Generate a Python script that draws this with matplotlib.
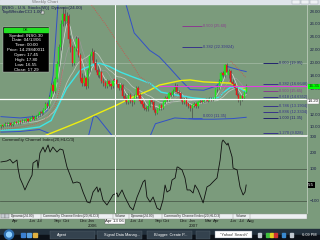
import numpy as np
import pandas as pd
import matplotlib
matplotlib.use("Agg")
import matplotlib.pyplot as plt
import matplotlib.transforms as mtransforms
from matplotlib.patches import Rectangle, Circle

plt.rcParams['font.family'] = ['Liberation Sans', 'DejaVu Sans']

# weekly candles, week 0 = 24 Feb 2005
opens = [10.1, 10.3, 10.2, 10.5, 10.4, 10.6, 10.3, 10.5, 10.8, 10.6,
         10.9, 10.7, 11.0, 10.9, 11.2, 11.0, 11.3, 11.6, 11.3, 11.7,
         11.9, 12.3, 12.1, 12.8, 13.5, 13.2, 14.6, 16.5, 15.6, 17.4,
         19.8, 22.4, 26.0, 27.6, 26.4, 27.2, 23.6, 22.4, 19.9, 22.3,
         23.6, 21.2, 17.6, 16.9, 17.6, 16.3, 18.8, 21.0, 21.6, 20.0,
         18.9, 18.1, 18.6, 17.2, 16.8, 16.4, 17.1, 16.6, 16.3, 17.45,
         17.3, 16.6, 16.0, 16.5, 14.8, 14.4, 13.9, 15.0, 14.0, 13.8,
         14.8, 16.0, 15.0, 14.0, 13.6, 13.0, 12.8, 13.3, 14.2, 13.8,
         12.6, 12.2, 12.8, 13.4, 13.0, 13.8, 14.5, 14.2, 15.2, 15.0,
         15.6, 16.3, 15.4, 15.2, 14.2, 13.8, 14.4, 13.6, 13.2, 12.9,
         13.4, 13.6, 13.2, 13.9, 14.1, 13.9, 14.2, 14.3, 14.1, 14.4,
         14.2, 14.5, 15.9, 16.0, 17.2, 18.3, 18.0, 19.6, 18.0, 18.7,
         17.0, 16.6, 16.0, 15.0, 14.2, 14.8, 14.5, 15.4]
closes = [10.3, 10.2, 10.5, 10.4, 10.6, 10.3, 10.5, 10.8, 10.6, 10.9,
          10.7, 11.0, 10.9, 11.2, 11.0, 11.3, 11.6, 11.3, 11.7, 11.9,
          12.3, 12.1, 12.8, 13.5, 13.2, 14.6, 16.5, 15.6, 17.4, 19.8,
          22.4, 26.0, 27.6, 26.4, 27.2, 23.6, 22.4, 19.9, 22.3, 23.6,
          21.2, 17.6, 16.9, 17.6, 16.3, 18.8, 21.0, 21.6, 20.0, 18.9,
          18.1, 18.6, 17.2, 16.8, 16.4, 17.1, 16.6, 16.3, 17.2, 17.29,
          16.6, 16.0, 16.5, 14.8, 14.4, 13.9, 15.0, 14.0, 13.8, 14.8,
          16.0, 15.0, 14.0, 13.6, 13.0, 12.8, 13.3, 14.2, 13.8, 12.6,
          12.2, 12.8, 13.4, 13.0, 13.8, 14.5, 14.2, 15.2, 15.0, 15.6,
          16.3, 15.4, 15.2, 14.2, 13.8, 14.4, 13.6, 13.2, 12.9, 13.4,
          13.6, 13.2, 13.9, 14.1, 13.9, 14.2, 14.3, 14.1, 14.4, 14.2,
          14.5, 15.9, 16.0, 17.2, 18.3, 18.0, 19.6, 18.6, 18.7, 17.0,
          16.6, 16.0, 15.0, 14.2, 14.8, 14.5, 15.4, 16.35]
highs = [10.5, 10.5, 10.7, 10.7, 10.8, 10.7, 10.7, 11.0, 10.9, 11.1,
         11.1, 11.2, 11.3, 11.4, 11.4, 11.5, 11.8, 11.7, 11.9, 12.2,
         12.5, 12.6, 13.0, 13.8, 13.9, 14.9, 16.9, 17.2, 17.8, 20.2,
         22.9, 26.6, 28.6, 28.3, 27.9, 27.5, 24.3, 22.8, 22.6, 24.1,
         23.9, 21.5, 18.3, 18.0, 17.9, 19.2, 21.5, 22.3, 22.0, 20.5,
         19.4, 19.0, 18.8, 17.6, 17.1, 17.4, 17.3, 16.9, 17.5, 17.80,
         17.4, 16.8, 16.8, 16.7, 15.2, 14.7, 15.3, 15.2, 14.4, 15.1,
         16.4, 16.3, 15.3, 14.3, 13.9, 13.3, 13.6, 14.5, 14.4, 14.0,
         12.9, 13.0, 13.6, 13.6, 14.0, 14.8, 14.8, 15.5, 15.5, 15.9,
         16.8, 16.6, 15.7, 15.4, 14.5, 14.6, 14.6, 13.9, 13.5, 13.6,
         13.9, 13.8, 14.1, 14.3, 14.3, 14.4, 14.5, 14.5, 14.6, 14.6,
         14.7, 16.1, 16.3, 17.5, 18.6, 18.7, 19.8, 19.95, 19.0, 18.9,
         17.4, 16.9, 16.2, 15.3, 15.0, 15.1, 15.6, 16.6]
lows = [9.9, 10.0, 10.1, 10.2, 10.2, 10.1, 10.2, 10.4, 10.4, 10.5,
        10.5, 10.6, 10.7, 10.8, 10.8, 10.9, 11.1, 11.1, 11.2, 11.5,
        11.7, 11.9, 12.0, 12.6, 12.9, 13.0, 14.4, 15.2, 15.3, 17.0,
        19.5, 22.0, 25.6, 25.8, 25.9, 23.0, 21.6, 19.5, 19.6, 21.8,
        20.8, 17.2, 16.4, 16.3, 15.9, 16.0, 18.5, 20.4, 19.6, 18.5,
        17.7, 17.6, 16.8, 16.4, 16.0, 16.1, 16.3, 15.9, 16.1, 16.55,
        16.2, 15.7, 15.7, 14.5, 14.0, 13.5, 13.6, 13.7, 13.3, 13.5,
        14.5, 14.7, 13.7, 13.2, 12.7, 12.4, 12.5, 13.1, 13.5, 12.3,
        11.9, 12.0, 12.6, 12.7, 12.8, 13.6, 13.9, 14.0, 14.7, 14.8,
        15.4, 15.2, 14.9, 14.0, 13.5, 13.6, 13.3, 12.9, 12.5, 11.35,
        13.1, 12.9, 13.0, 13.7, 13.7, 13.8, 14.0, 13.9, 14.0, 14.0,
        14.0, 14.3, 15.5, 15.8, 17.0, 17.7, 17.8, 18.3, 17.6, 16.8,
        16.3, 15.7, 14.8, 13.9, 13.4, 14.1, 14.3, 15.2]

# indicator lines (week, value)
cyan_wk = [0, 10, 20, 26, 30, 34, 41, 48, 51, 56, 62, 68, 77, 83, 90, 100, 107, 113, 115, 119, 124, 127]
cyan_val = [9.5, 9.6, 10.0, 11.0, 13.5, 16.0, 18.8, 19.7, 19.9, 19.4, 18.5, 17.8, 16.8, 15.4, 15.0, 14.5, 14.3, 14.6, 15.3, 16.2, 16.0, 15.4]
yellow_wk = [18, 24, 34, 43, 51, 60, 68, 77, 82, 93, 98, 105, 119, 124, 127]
yellow_val = [8.0, 8.8, 10.0, 11.1, 12.2, 13.4, 14.6, 15.7, 16.5, 17.2, 17.3, 17.0, 16.8, 16.0, 15.7]
upper_wk = [0, 10, 20, 24, 27, 30, 62, 64, 69, 77, 82, 87, 93, 98, 105, 112, 117, 124, 127]
upper_val = [11.6, 11.4, 11.7, 12.6, 18.0, 31.0, 31.0, 29.8, 24.6, 21.9, 20.9, 19.3, 17.3, 15.8, 15.7, 16.4, 19.4, 18.8, 18.6]
lower_wk = [0, 10, 20, 25, 28, 44, 48, 50, 54, 58, 75, 80, 90, 100, 110, 120, 127]
lower_val = [9.2, 9.3, 9.6, 9.0, 6.0, 7.0, 11.8, 11.5, 10.0, 8.5, 7.0, 10.5, 11.4, 11.2, 11.2, 11.3, 11.5]
sar_wk = [0, 6, 12, 18, 22, 25, 28, 30, 32, np.nan, 45, 55, 62, 68, 72, 78, np.nan,
          113, 115, 117, np.nan, 119, 122, 125, 127]
sar_val = [9.6, 9.8, 10.1, 10.5, 11.0, 11.8, 13.2, 15.5, 19.0, np.nan, 29.7, 25.6, 22.3, 19.7, 17.8, 16.5, np.nan,
           14.6, 15.4, 16.5, np.nan, 20.2, 19.3, 18.3, 17.6]

fib_r_level = [19.95, 16.6648, 15.65, 14.6352, 13.1904, 12.3304, 11.35, 9.028]
fib_r_text = ['0.000 (19.95)', '0.382 (16.6648)', '0.500 (15.65)', '0.618 (14.6352)',
              '0.786 (13.1904)', '0.886 (12.3304)', '1.000 (11.35)', '1.270 (9.028)']
fib_u_level = [25.60, 22.39924]
fib_u_text = ['0.500 (25.60)', '0.382 (22.39924)']

cci_wk = [0, 3.1, 4.7, 6.2, 8.3, 8.8, 9.8, 11.4, 12.4, 14.0, 16.1, 16.6, 18.7, 19.2, 20.2, 21.8,
          22.8, 24.4, 25.4, 26.9, 29.0, 30.6, 32.1, 34.2, 35.8, 37.3, 39.4, 40.9, 42.5, 44.6,
          46.1, 47.7, 49.7, 50.3, 51.3, 52.8, 54.9, 56.5, 58.0, 60.1, 60.6, 62.7, 64.2, 66.8,
          68.4, 70.5, 72.0, 73.6, 74.6, 75.6, 77.2, 78.8, 80.8, 82.4, 83.9, 85.0, 86.0, 87.6,
          88.6, 90.2, 91.2, 91.7, 93.8, 95.3, 96.4, 97.9, 99.5, 100.5, 102.1, 104.7, 106.7,
          108.3, 109.8, 111.9, 113.5, 114.5, 115.0, 117.1, 117.6, 119.7, 120.2, 122.3, 123.8,
          125.4, 126.4, 127.0]
cci_val = [144, 150, 160, 137, 156, 106, 44, 0, -31, 12, 62, 137, 156, 106, 200, 237,
           206, 250, 206, 237, 206, 225, 219, 112, 62, 12, 19, 12, -44, -106,
           -112, -44, -12, -44, -19, -94, -125, -94, -62, -50, -75, -31, -75, -137,
           -156, -75, -31, 19, 31, -75, -106, -75, -144, -156, -94, 0, -44, -31,
           31, 44, 112, 112, 94, 44, -31, -31, -50, 0, -31, -112, -12,
           0, 19, 44, 156, 269, 281, 250, 262, 175, 106, 94, -12,
           -62, -44, 0]

# Mar/Apr 2006 sit under the cursor date box, so they are not listed
month_dates = ['2005-04-01', '2005-06-01', '2005-07-01', '2005-09-01', '2005-10-01', '2005-12-01',
               '2006-01-01', '2006-06-01', '2006-07-01', '2006-09-01',
               '2006-10-01', '2006-12-01', '2007-01-01', '2007-03-01', '2007-04-01', '2007-06-01',
               '2007-07-01', '2007-08-01']
month_labels = ['Apr', 'Jun', 'Jul', 'Sep', 'Oct', 'Dec', 'Jan', 'Jun', 'Jul', 'Sep',
                'Oct', 'Dec', 'Jan', 'Mar', 'Apr', 'Jun', 'Jul', 'Aug']
start = pd.Timestamp('2005-02-24')
# 14.00 is hidden behind the cursor price box
price_ticks = [10, 12, 16, 18, 20, 22, 24, 26, 28]

GREEN = '#7b9b7c'
FS = 3.2

o = np.array(opens); c = np.array(closes); h = np.array(highs); l = np.array(lows)
wk = np.arange(len(c))
cs = pd.Series(c)
ma_fast = cs.rolling(5, min_periods=1).mean()
ma_mid = cs.rolling(10, min_periods=1).mean()
ma_slow = cs.rolling(20, min_periods=1).mean()

fig = plt.figure(figsize=(3.2, 2.4), dpi=100, facecolor=GREEN)

# ---- price panel
ax = fig.add_axes([0, 105 / 240, 307 / 320, 131 / 240])
ax.set_facecolor(GREEN)
ax.set_xlim(-0.5, 158.5)
ax.set_ylim(8.75, 29.09)

ax.axhline(19.95, color='#a6bca6', lw=0.5, zorder=1)
ax.plot(upper_wk, upper_val, color='#3250c8', lw=0.7, zorder=2)
ax.plot(lower_wk, lower_val, color='#3250c8', lw=0.7, zorder=2)
ax.plot(wk, ma_slow, color='#b8c4b8', lw=0.6, zorder=2)
ax.plot(wk, ma_mid, color='#9a9a9a', lw=0.5, zorder=2)
ax.plot(wk, ma_fast, color='#d8d8d8', lw=0.5, zorder=2)
ax.plot(yellow_wk, yellow_val, color='#eeee10', lw=1.0, zorder=2)
ax.plot(cyan_wk, cyan_val, color='#3ee6e6', lw=1.0, zorder=2)
ax.plot(sar_wk, sar_val, color='#d84848', lw=0.6, ls=(0, (1, 1.5)), zorder=2)

up = c >= o
ax.vlines(wk, l, h, color='#3c3c3c', lw=0.4, zorder=3)
ax.bar(wk[up], (c - o)[up], bottom=o[up], width=0.62, color='#1ee61e',
       edgecolor='#1ee61e', lw=0.3, zorder=4)
ax.bar(wk[~up], (o - c)[~up], bottom=c[~up], width=0.62, color='#e81c1c',
       edgecolor='#e81c1c', lw=0.3, zorder=4)

# fibonacci levels
fib_cols = ['#22226e', '#38348a', '#8a3c8e', '#38348a', '#38348a', '#38348a', '#22226e', '#38348a']
ax.hlines(fib_r_level, 135.7, 143.5, colors=fib_cols, lw=0.7, zorder=5)
for lev, txt, col in zip(fib_r_level, fib_r_text, fib_cols):
    ax.text(144, lev, txt, fontsize=2.9, color=col, va='center', ha='left', zorder=6)
ax.hlines(fib_u_level, 93.8, 104, colors=['#8a3c8e', '#38348a'], lw=0.7, zorder=5)
for lev, txt, col in zip(fib_u_level, fib_u_text, ['#8a3c8e', '#38348a']):
    ax.text(104.5, lev, txt, fontsize=2.9, color=col, va='center', ha='left', zorder=6)
ax.hlines(11.35, 97, 104, color='#3250c8', lw=0.6, zorder=5)
ax.text(104.5, 11.35, '0.000 (11.35)', fontsize=2.9, color='#38348a', va='bottom', ha='left', zorder=6)

ax.hlines(closes[-1], 82, 158.5, color='#e040e0', lw=0.8, zorder=5)
ax.axhline(14.2984, color='white', lw=0.9, zorder=5)
ax.axvline(59, color='white', lw=0.7, zorder=5)

ax.yaxis.tick_right()
ax.set_yticks(price_ticks)
ax.set_yticklabels([f'{v:.2f}' for v in price_ticks])
ax.tick_params(axis='y', length=0, pad=1.8, labelsize=FS, labelcolor='#1c2048')
ax.set_xticks([])
for s in ['top', 'left', 'bottom']:
    ax.spines[s].set_visible(False)
ax.spines['right'].set_color('#c8d4c8')
ax.spines['right'].set_linewidth(0.5)
bt = mtransforms.blended_transform_factory(ax.transAxes, ax.transData)
ax.text(1.004, closes[-1], f'{closes[-1]:.2f}', transform=bt, fontsize=FS, va='center', ha='left',
        color='#103010', bbox=dict(facecolor='#00ff00', edgecolor='none', pad=0.4), clip_on=False, zorder=7)
ax.text(1.003, 14.2984, '14.20', transform=bt, fontsize=FS, va='top', ha='left',
        color='#202020', bbox=dict(facecolor='white', edgecolor='#808080', lw=0.3, pad=0.4),
        clip_on=False, zorder=7)

# ---- CCI panel
cx = fig.add_axes([0, 27 / 240, 307 / 320, 76 / 240])
cx.set_facecolor(GREEN)
cx.set_xlim(-0.5, 158.5)
cx.set_ylim(-175, 300)
cx.axhline(100, color='#4c5c4c', lw=0.6)
cx.axhline(-100, color='#4c5c4c', lw=0.6)
cx.plot(cci_wk, cci_val, color='#101010', lw=0.6)
cx.axvline(59, color='white', lw=0.7)
cx.yaxis.tick_right()
cx.set_yticks([300, 200, 100, -100])
cx.tick_params(axis='y', length=0, pad=1.8, labelsize=FS, labelcolor='#1c2048')
cx.set_xticks([])
for s in ['top', 'left', 'bottom']:
    cx.spines[s].set_visible(False)
cx.spines['right'].set_color('#c8d4c8')
cx.spines['right'].set_linewidth(0.5)
cx.text(0.005, 0.985, 'Commodity Channel Index(20,HLC/3)', transform=cx.transAxes, fontsize=FS,
        va='top', ha='left', color='#1a1a1a')
bt2 = mtransforms.blended_transform_factory(cx.transAxes, cx.transData)
cx.text(1.004, cci_val[-1], '5.5', transform=bt2, fontsize=FS, va='center', ha='left', color='white',
        bbox=dict(facecolor='black', edgecolor='none', pad=0.4), clip_on=False)

# month labels under the tab strip
xt = cx.get_xaxis_transform()
for d, lab in zip(month_dates, month_labels):
    w = (pd.Timestamp(d) - start).days / 7
    cx.text(w + 0.6, -0.105, lab, transform=xt, fontsize=FS, ha='left', va='center',
            color='#1a1a1a', clip_on=False)
    if lab == 'Jan':
        cx.text(w + 0.6, -0.175, d[:4], transform=xt, fontsize=FS, ha='left', va='center',
                color='#1a1a1a', clip_on=False)
cx.text(59, -0.105, 'Apr 13 06', transform=xt, fontsize=FS, ha='center', va='center', color='#1a1a1a',
        bbox=dict(facecolor='white', edgecolor='#606060', lw=0.3, pad=0.5), clip_on=False, zorder=8)

# ---- window chrome (pixel coordinates)
ov = fig.add_axes([0, 0, 1, 1], zorder=5)
ov.set_xlim(0, 320)
ov.set_ylim(240, 0)
ov.axis('off')
ov.patch.set_alpha(0)

ov.add_patch(Rectangle((0, 0), 320, 4, color='#dfe4ea'))
ov.text(32, 2.3, 'Weekly Chart', fontsize=FS, color='#7a7a7a', va='center', ha='left')
for bx in [292, 301, 310]:
    ov.add_patch(Rectangle((bx, 0), 8, 3.5, facecolor='#eef1f4', edgecolor='#9aa4b0', lw=0.3))
ov.plot([0, 307], [136, 136], color='white', lw=1.1)

ov.text(2, 7.5, '[INSG - U.S. Stocks(W)]  Dynamic(24.00)', fontsize=FS, color='#1a1a50', va='center')
ov.text(2, 12.5, 'TopWhistlerCCI 1.00', fontsize=FS, color='#1a1a50', va='center')
ov.add_patch(Rectangle((40.5, 10.8), 3.5, 3.4, facecolor='#d8dcd8', edgecolor='#404040', lw=0.3))

# data window
ov.add_patch(Rectangle((3, 27), 46, 45, facecolor='black', edgecolor='#c0c0c0', lw=0.3))
ov.add_patch(Rectangle((4, 27.8), 44, 4.4, color='#22e022'))
ov.text(26, 30.1, 'OK', fontsize=2.8, color='#102010', ha='center', va='center')
info = ['Symbol: INSG.30', 'Date: 04/13/06', 'Time: 00:00', 'Price: 14.29840011',
        'Open: 17.45', 'High: 17.80', 'Low: 16.55', 'Close: 17.29']
for i, t in enumerate(info):
    ov.text(26, 35.5 + i * 4.9, t, fontsize=FS, color='white', ha='center', va='center')

# tab strip
ov.add_patch(Rectangle((0, 213.5), 307, 5.5, facecolor='#edf0f2', edgecolor='#8f968f', lw=0.3))
for bx in [0.5, 5]:
    ov.add_patch(Rectangle((bx, 214.2), 4, 4.2, facecolor='#c9ced4', edgecolor='#707070', lw=0.3))
tabs = ['Dynamic(24.00)', 'Commodity Channel Index(20,HLC/3)', 'Volume',
        'Dynamic(24.00)', 'Commodity Channel Index(20,HLC/3)', 'Volume']
tx = 10.5
for t in tabs:
    ov.text(tx, 216.3, t, fontsize=2.4, color='#2a2a2a', va='center', ha='left')
    tx += len(t) * 2.05 + 4
    ov.plot([tx - 2, tx - 2], [213.8, 218.8], color='#8a8a8a', lw=0.3)

# taskbar
ov.add_patch(Rectangle((0, 229), 320, 5.5, color='#22303c'))
ov.add_patch(Rectangle((0, 234.5), 320, 5.5, color='#0c1118'))
ov.add_patch(Circle((9, 234.6), 4.6, color='#2f6fb0'))
ov.add_patch(Circle((9, 234.6), 2.4, color='#8fd0ff'))
for qx, qc in zip([21, 27, 33], ['#3b7fd0', '#5aa0e0', '#e0b040']):
    ov.add_patch(Rectangle((qx, 232.5), 4, 4, color=qc))
buttons = [(50, 'Agent'), (97, 'Signal Data Manag...'), (147, 'Blogger: Create P...')]
for bx, t in buttons:
    ov.add_patch(Rectangle((bx, 230.5), 45, 8, facecolor='#34424e', edgecolor='#56646e', lw=0.3))
    ov.text(bx + 7, 234.6, t, fontsize=2.8, color='white', va='center', ha='left')
ov.add_patch(Rectangle((196, 230.5), 14, 8, facecolor='#34424e', edgecolor='#56646e', lw=0.3))
ov.add_patch(Rectangle((215, 231), 37, 7, facecolor='white', edgecolor='#7a8a9a', lw=0.3))
ov.text(233.5, 234.6, '"Yahoo! Search"', fontsize=2.8, color='#303030', va='center', ha='center')
for qx, qc in zip([258, 266, 270, 274, 282, 290], ['#c0c8d0', '#40c040', '#e0d020', '#d03030',
                                                  '#3a8ad0', '#c0c8d0']):
    ov.add_patch(Rectangle((qx, 232.5), 3.2, 4, color=qc))
ov.text(309, 234.6, '6:09 PM', fontsize=2.8, color='white', va='center', ha='center')

fig.savefig('out.png', dpi=100, facecolor=GREEN)
